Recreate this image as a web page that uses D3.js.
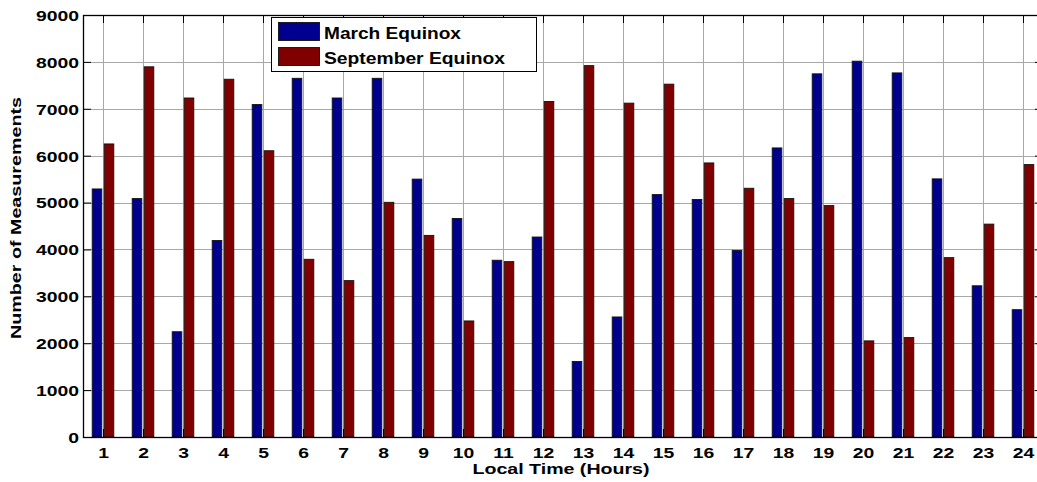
<!DOCTYPE html>
<html>
<head>
<meta charset="utf-8">
<script src="https://cdn.jsdelivr.net/npm/d3@7"></script>
<style>
  html, body { margin: 0; padding: 0; background: #fff; }
  svg { display: block; font-family: "Liberation Sans", Arial, sans-serif; font-weight: bold; }
</style>
</head>
<body>
<svg id="chart" width="1037" height="482"></svg>
<script>
const hours = d3.range(1, 25);
const marchEquinox = [5290, 5085, 2245, 4190, 7090, 7650, 7230, 7650, 5500, 4660, 3770, 4265,
                      1610, 2560, 5170, 5065, 3980, 6165, 7745, 8015, 7765, 5505, 3225, 2715];
const septemberEquinox = [6250, 7895, 7230, 7630, 6105, 3790, 3335, 5005, 4300, 2475, 3740, 7155,
                          7920, 7120, 7525, 5845, 5305, 5085, 4935, 2050, 2120, 3825, 4540, 5810];
const seriesNames = ["March Equinox", "September Equinox"];
const seriesColors = ["#00008f", "#800000"];
const yTicks = [0, 1000, 2000, 3000, 4000, 5000, 6000, 7000, 8000, 9000];

const svg = d3.select("#chart");
const L = 83, R = 1043, T = 15, B = 437;
const x = d3.scaleLinear().domain([0.5, 24.5]).range([L, R]);
const y = d3.scaleLinear().domain([0, 9000]).range([B, T]);
const STRETCH = 1.29;

svg.append("rect").attr("x", 0).attr("y", 0).attr("width", 1037).attr("height", 482).attr("fill", "#fff");
svg.append("rect").attr("x", L).attr("y", T).attr("width", R - L).attr("height", B - T).attr("fill", "#fff");

// grid
const grid = svg.append("g").attr("stroke", "#a8a8a8").attr("stroke-width", 1);
grid.selectAll("line.v").data(hours).join("line")
  .attr("x1", d => Math.round(x(d)) + 0.5).attr("x2", d => Math.round(x(d)) + 0.5)
  .attr("y1", T).attr("y2", B);
grid.selectAll("line.h").data(yTicks.slice(1)).join("line")
  .attr("x1", L).attr("x2", R)
  .attr("y1", d => Math.round(y(d)) + 0.5).attr("y2", d => Math.round(y(d)) + 0.5);

// bars
const off = 0.15, bw = 0.24;
const seriesData = [marchEquinox, septemberEquinox];
seriesData.forEach((vals, si) => {
  svg.append("g").selectAll("rect").data(vals).join("rect")
    .attr("x", (d, i) => x(hours[i] + (si === 0 ? -off : off) - bw / 2))
    .attr("width", x(bw) - x(0))
    .attr("y", d => y(d))
    .attr("height", d => y(0) - y(d))
    .attr("fill", seriesColors[si])
    .attr("stroke", "#111")
    .attr("stroke-width", 0.9);
});

// axes (inward ticks, box)
function styleAxis(g) {
  g.select(".domain").remove();
  g.selectAll(".tick line").attr("stroke", "#000").attr("stroke-width", 1);
  g.selectAll("text").attr("fill", "#000").attr("font-size", 15).attr("font-weight", "bold")
    .attr("font-family", "'Liberation Sans', Arial, sans-serif");
}
const xAxis = svg.append("g").attr("transform", `translate(0,${B})`)
  .call(d3.axisBottom(x).tickValues(hours).tickSizeInner(-8).tickSizeOuter(0).tickFormat(d3.format("d")))
  .call(styleAxis);
xAxis.selectAll("text").attr("dy", 0).attr("y", 21);
svg.append("g").attr("transform", `translate(0,${T})`)
  .call(d3.axisTop(x).tickValues(hours).tickSizeInner(-8).tickSizeOuter(0).tickFormat(""))
  .call(styleAxis);
const yAxis = svg.append("g").attr("transform", `translate(${L},0)`)
  .call(d3.axisLeft(y).tickValues(yTicks).tickSizeInner(-8).tickSizeOuter(0).tickFormat(d3.format("d")))
  .call(styleAxis);
yAxis.selectAll("text").attr("x", -4).attr("dy", "0.36em");
svg.append("g").attr("transform", `translate(${R},0)`)
  .call(d3.axisRight(y).tickValues(yTicks).tickSizeInner(-8).tickSizeOuter(0).tickFormat(""))
  .call(styleAxis);

// box
svg.append("rect").attr("x", L + 0.5).attr("y", T + 0.5).attr("width", R - L).attr("height", B - T)
  .attr("fill", "none").attr("stroke", "#000").attr("stroke-width", 1.3);

// stretch tick labels horizontally
svg.selectAll(".tick text").each(function() {
  const w = this.getComputedTextLength();
  if (w > 0) {
    d3.select(this).attr("textLength", w * STRETCH).attr("lengthAdjust", "spacingAndGlyphs");
  }
});

// axis titles
svg.append("text").attr("x", 561).attr("y", 474).attr("text-anchor", "middle")
  .attr("font-size", 15).attr("font-weight", "bold")
  .attr("textLength", 177).attr("lengthAdjust", "spacingAndGlyphs")
  .text("Local Time (Hours)");
svg.append("text").attr("transform", "translate(21,218) rotate(-90)").attr("text-anchor", "middle")
  .attr("font-size", 15).attr("font-weight", "bold")
  .attr("textLength", 242).attr("lengthAdjust", "spacingAndGlyphs")
  .text("Number of Measurements");

// legend
const lg = svg.append("g");
lg.append("rect").attr("x", 271.5).attr("y", 17.5).attr("width", 265).attr("height", 54)
  .attr("fill", "#fff").attr("stroke", "#000").attr("stroke-width", 1);
const legendTextW = [137, 181];
seriesNames.forEach((name, i) => {
  const yy = 22 + i * 25;
  lg.append("rect").attr("x", 278.5).attr("y", yy + 0.5).attr("width", 41).attr("height", 18)
    .attr("fill", seriesColors[i]).attr("stroke", "#111").attr("stroke-width", 0.9);
  lg.append("text").attr("x", 324).attr("y", yy + 16.5)
    .attr("font-size", 17).attr("font-weight", "bold")
    .attr("textLength", legendTextW[i]).attr("lengthAdjust", "spacingAndGlyphs")
    .text(name);
});
</script>
</body>
</html>
